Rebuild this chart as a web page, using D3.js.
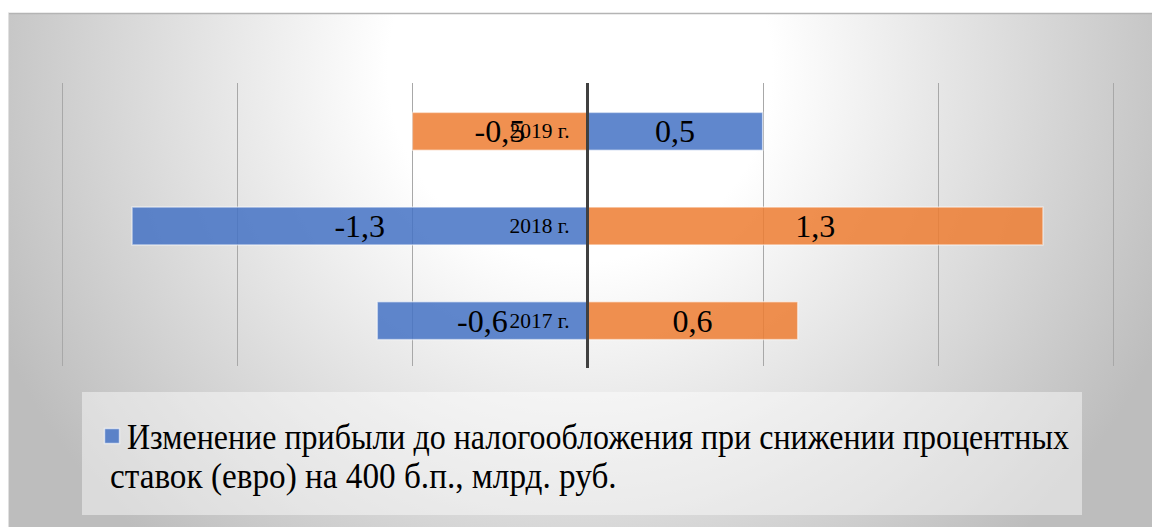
<!DOCTYPE html>
<html>
<head>
<meta charset="utf-8">
<script src="https://cdn.jsdelivr.net/npm/d3@7.9.0/dist/d3.min.js"></script>
<style>
  html, body { margin: 0; padding: 0; background: #fff; }
  svg text { font-family: "Liberation Serif", "Times New Roman", serif; }
</style>
</head>
<body>
<svg id="chart" width="1152" height="527"></svg>
<script>
const categories = ["2019 г.", "2018 г.", "2017 г."];
const decreaseValues = [0.5, -1.3, -0.6];   // blue series
const increaseValues = [-0.5, 1.3, 0.6];    // orange series
const ticks = [-1.5, -1, -0.5, 0, 0.5, 1, 1.5];
const legendLines = [
  "Изменение прибыли до налогообложения при снижении процентных",
  "ставок (евро) на 400 б.п., млрд. руб."
];

const svg = d3.select('#chart');
const W = 1152, H = 527;

// background
let defs = svg.append('defs');
let grad = defs.append('radialGradient')
  .attr('id', 'bg')
  .attr('gradientUnits', 'userSpaceOnUse')
  .attr('cx', 580).attr('cy', 70).attr('r', 640);
grad.append('stop').attr('offset', 0).attr('stop-color', '#ffffff');
grad.append('stop').attr('offset', 0.3).attr('stop-color', '#ffffff');
grad.append('stop').attr('offset', 1).attr('stop-color', '#bdbdbd');

svg.append('rect').attr('x', 0).attr('y', 0).attr('width', W).attr('height', H).attr('fill', '#fff');
svg.append('rect').attr('x', 8).attr('y', 13).attr('width', W - 8).attr('height', H - 13)
  .attr('fill', 'url(#bg)');
svg.append('line').attr('x1', 8).attr('x2', W).attr('y1', 13.5).attr('y2', 13.5)
  .attr('stroke', '#b4b4b4').attr('stroke-width', 1.5);
svg.append('line').attr('x1', 8.5).attr('x2', 8.5).attr('y1', 13).attr('y2', H)
  .attr('stroke', '#e0e0e0').attr('stroke-width', 1);

// scales
const x = d3.scaleLinear().domain([-1.5, 1.5]).range([62, 1113]);
const y = d3.scaleBand().domain(categories).range([84, 368]).paddingInner(0.6).paddingOuter(0.3);

// gridlines
svg.append('g').selectAll('line').data(ticks.filter(t => t !== 0)).join('line')
  .attr('x1', d => Math.round(x(d)) + 0.5).attr('x2', d => Math.round(x(d)) + 0.5)
  .attr('y1', 83).attr('y2', 366)
  .attr('stroke', '#a8a8a8').attr('stroke-width', 1);

const blue = '#4472c4', orange = '#ed7d31';

function drawBars(values, color) {
  svg.append('g').selectAll('rect').data(values).join('rect')
    .attr('x', d => x(Math.min(0, d)))
    .attr('y', (d, i) => y(categories[i]))
    .attr('width', d => Math.abs(x(d) - x(0)))
    .attr('height', y.bandwidth())
    .attr('fill', color).attr('fill-opacity', 0.85)
    .attr('stroke', '#ffffff').attr('stroke-opacity', 0.5).attr('stroke-width', 1.5);
}
drawBars(increaseValues, orange);
drawBars(decreaseValues, blue);

// zero axis
svg.append('line').attr('x1', x(0)).attr('x2', x(0)).attr('y1', 83).attr('y2', 368)
  .attr('stroke', '#404040').attr('stroke-width', 3);

// squeeze a text horizontally so it spans `width` px, anchored at its left/right end
function squeeze(sel, px, py, width, anchor) {
  sel.each(function () {
    let len = this.getComputedTextLength();
    let sx = Math.min(1, width / len);
    let t = d3.select(this);
    let cx = typeof px === 'function' ? px(t.datum()) : px;
    let cy = typeof py === 'function' ? py(t.datum()) : py;
    t.attr('x', 0).attr('y', 0)
      .attr('transform', `translate(${cx},${cy}) scale(${sx},1)`);
  });
}

// category labels
svg.append('g').selectAll('text').data(categories).join('text')
  .attr('text-anchor', 'end')
  .attr('font-size', 22)
  .attr('fill', '#000')
  .text(d => d)
  .call(squeeze, x(0) - 18, d => y(d) + y.bandwidth() / 2 + 7, 60);

// value labels
const fmt = v => String(v).replace('.', ',');
function drawLabels(values) {
  svg.append('g').selectAll('text').data(values).join('text')
    .attr('x', d => (x(d) + x(0)) / 2)
    .attr('y', (d, i) => y(categories[i]) + y.bandwidth() / 2 + 11)
    .attr('text-anchor', 'middle')
    .attr('font-size', 32)
    .attr('fill', '#000')
    .text(d => fmt(d));
}
drawLabels(increaseValues);
drawLabels(decreaseValues);

// legend
let lg = svg.append('g');
lg.append('rect').attr('x', 82).attr('y', 392).attr('width', 1000).attr('height', 123)
  .attr('fill', '#ffffff').attr('fill-opacity', 0.45);
lg.append('rect').attr('x', 104.5).attr('y', 428.5).attr('width', 15).attr('height', 15)
  .attr('fill', blue).attr('fill-opacity', 0.85)
  .attr('stroke', '#ffffff').attr('stroke-opacity', 0.6).attr('stroke-width', 1.5);
lg.append('text').attr('font-size', 36).text(legendLines[0])
  .call(squeeze, 127, 449, 942);
lg.append('text').attr('font-size', 36).text(legendLines[1])
  .call(squeeze, 110, 488, 507);
</script>
</body>
</html>
